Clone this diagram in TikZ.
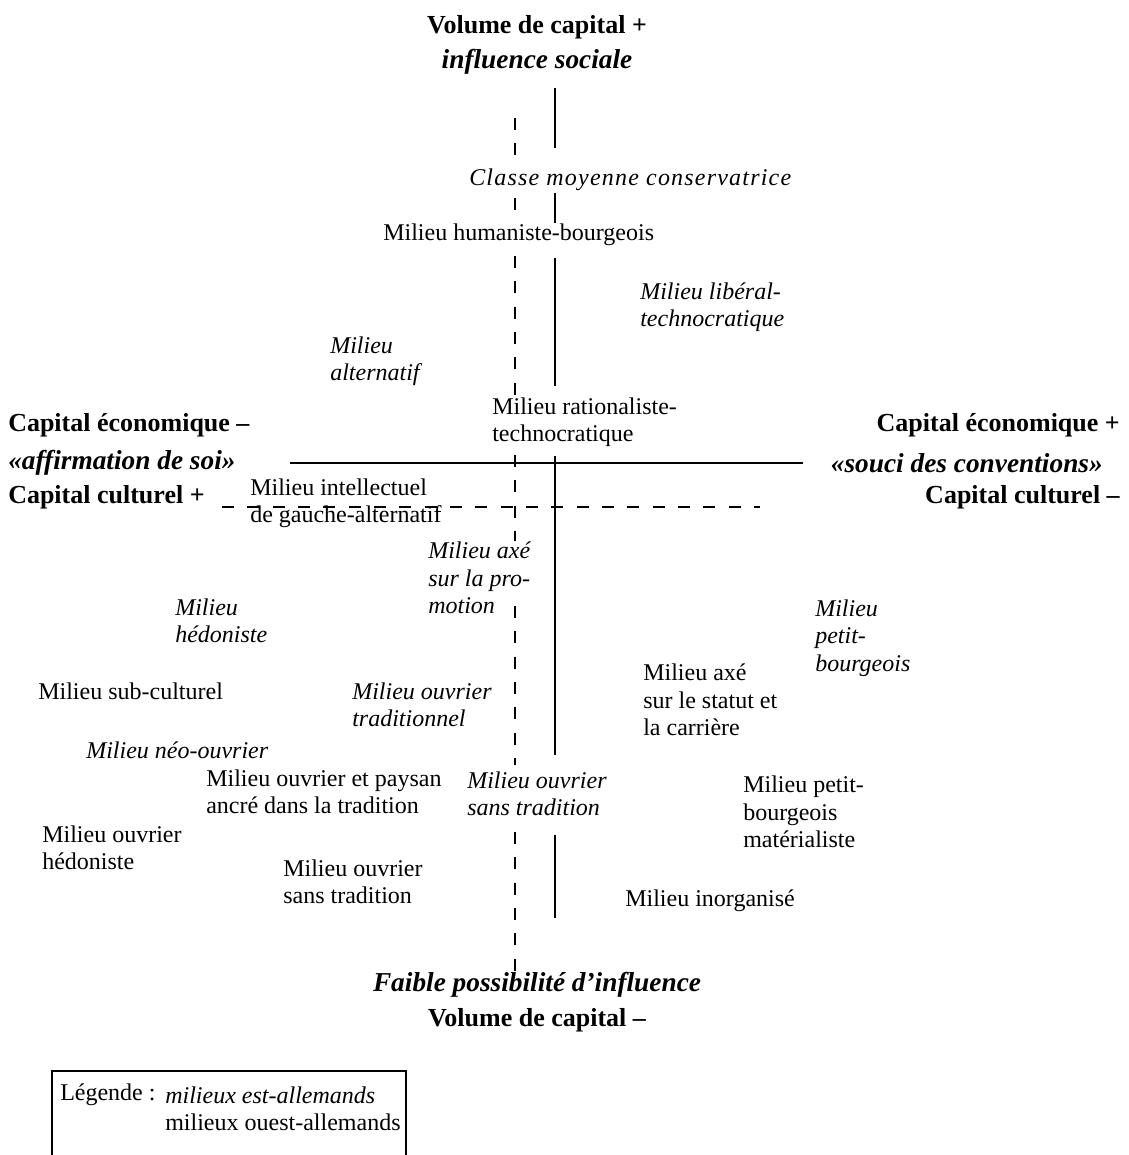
\documentclass[tikz,border=0pt]{standalone}
\usepackage{fontspec}
\setmainfont{Liberation Serif}
\usetikzlibrary{positioning}

\begin{document}
\begin{tikzpicture}
    [
        x=0.75pt, y=-0.75pt,
        Milieu/.style={inner sep=0pt, anchor=west, align=left, font=\fontsize{18}{20.5}\selectfont},
        EstMilieu/.style={Milieu, font=\fontsize{18}{20.5}\selectfont\itshape},
        Title/.style={inner sep=0pt, font=\fontsize{19.5}{23}\selectfont\bfseries},
        TitleIt/.style={Title, font=\fontsize{20.5}{23}\selectfont\bfseries\itshape},
        Axis/.style={line width=1.9pt},
        DashedAxis/.style={line width=1.7pt, dash pattern=on 9pt off 10pt}
    ]
    \useasboundingbox (0,0) rectangle (1128,1155);

    \draw[Axis] (290,463) -- (803,463);
    \foreach \ya/\yb in {88/148, 193/223, 258/386, 456/755, 835/918}
        \draw[Axis] (555,\ya) -- (555,\yb);
    \foreach \ya/\yb in {118/160, 198/212, 256/396, 455/541, 606/765, 832/972}
        \draw[DashedAxis] (515,\ya) -- (515,\yb);
    \draw[DashedAxis] (222,507) -- (760,507);

    \node[Title] (VolTop) at (537,27) {Volume de capital +};
    \node[TitleIt] (InflTop) at (537,62) {influence sociale};
    \node[EstMilieu, font=\fontsize{18}{20.5}\selectfont\itshape\addfontfeatures{LetterSpace=5}] (Classe) at (469,180) {Classe moyenne conservatrice};
    \node[Milieu] (Humaniste) at (383,235) {Milieu humaniste-bourgeois};
    \node[EstMilieu] (Liberal) at (640,307) {Milieu libéral-\\technocratique};
    \node[EstMilieu] (Alternatif) at (330,361) {Milieu\\alternatif};
    \node[Milieu] (Rationaliste) at (492,422) {Milieu rationaliste-\\technocratique};

    \node[Title, anchor=west] (EcoMoins) at (8,425) {Capital économique –};
    \node[TitleIt, anchor=west] (Affirmation) at (8,463) {«affirmation de soi»};
    \node[Title, anchor=west] (CultPlus) at (8,497) {Capital culturel +};
    \node[Title, anchor=east] (EcoPlus) at (1120,425) {Capital économique +};
    \node[TitleIt, anchor=east] (Souci) at (1103,463) {«souci des conventions»};
    \node[Title, anchor=east] (CultMoins) at (1120,497) {Capital culturel –};

    \node[Milieu] (Intellectuel) at (250,503) {Milieu intellectuel\\de gauche-alternatif};
    \node[EstMilieu] (Promotion) at (428,578) {Milieu axé\\sur la pro-\\motion};
    \node[EstMilieu] (Hedoniste) at (175,621) {Milieu\\hédoniste};
    \node[EstMilieu] (PetitBourgeois) at (815,638) {Milieu\\petit-\\bourgeois};
    \node[Milieu] (Statut) at (643,700) {Milieu axé\\sur le statut et\\la carrière};
    \node[Milieu] (SubCulturel) at (38,691) {Milieu sub-culturel};
    \node[EstMilieu] (OuvrierTrad) at (352,705) {Milieu ouvrier\\traditionnel};
    \node[EstMilieu] (NeoOuvrier) at (86,750) {Milieu néo-ouvrier};
    \node[Milieu] (Paysan) at (206,792) {Milieu ouvrier et paysan\\ancré dans la tradition};
    \node[EstMilieu] (SansTradEst) at (467,794) {Milieu ouvrier\\sans tradition};
    \node[Milieu] (Materialiste) at (743,812) {Milieu petit-\\bourgeois\\matérialiste};
    \node[Milieu] (OuvrierHedo) at (42,848) {Milieu ouvrier\\hédoniste};
    \node[Milieu] (SansTradOuest) at (283,882) {Milieu ouvrier\\sans tradition};
    \node[Milieu] (Inorganise) at (625,901) {Milieu inorganisé};

    \node[TitleIt] (Faible) at (537,985) {Faible possibilité d’influence};
    \node[Title] (VolBot) at (537,1020) {Volume de capital –};

    \draw[line width=1.3pt] (52,1155) |- (406,1071) -- (406,1155);
    \node[Milieu] (Legende) at (60,1095) {Légende :};
    \node[EstMilieu] (LegEst) at (165,1095) {milieux est-allemands};
    \node[Milieu] (LegOuest) at (165,1122) {milieux ouest-allemands};
\end{tikzpicture}
\end{document}
